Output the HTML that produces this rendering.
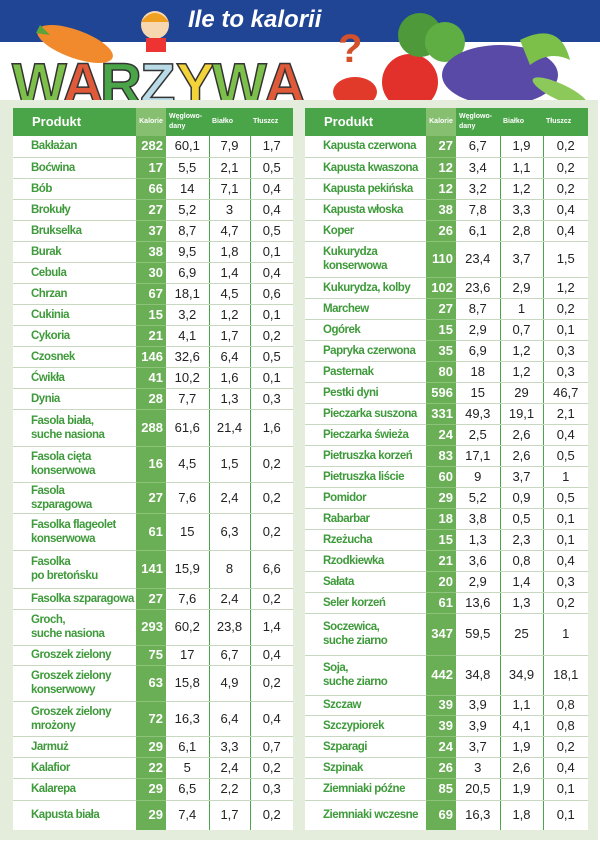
<!DOCTYPE html>
<html><head><meta charset="utf-8">
<style>
*{margin:0;padding:0;box-sizing:border-box}
body{width:600px;height:845px;background:#fff;position:relative;overflow:hidden;font-family:"Liberation Sans",sans-serif}
.blue{position:absolute;left:0;top:0;width:600px;height:42px;background:#1f4594}
.title{position:absolute;left:188px;top:6px;color:#fff;font:bold 24px "Liberation Sans",sans-serif;font-style:italic;letter-spacing:0px}
.panel{position:absolute;left:0;top:100px;width:598px;height:740px;background:#e4ecdb}
table{position:absolute;top:108px;border-collapse:collapse;table-layout:fixed;background:#fff}
td,th{padding:0;overflow:hidden}
th{background:#4aa448;color:#fff;height:28px;font-size:7px;font-weight:bold;text-align:left;vertical-align:middle;padding-left:3px;line-height:10px}
th.p{font-size:13px;padding-left:19px}
th.k{background:#86bf6f;text-align:center;padding:0}
td{border-bottom:1px solid #c8d8c0;font-size:13px;color:#222;text-align:center;vertical-align:middle;line-height:14px}
td.n{color:#3e9a3a;font-weight:bold;text-align:left;padding-left:18px;font-size:11.5px;letter-spacing:-0.5px;white-space:nowrap}
td.k{background:#6aae55;color:#fff;font-weight:bold;text-align:right;padding-right:3px;border-bottom:1px solid #8cc27a}
td.b{border-left:1px solid #4aa448}
</style></head><body>
<div class="blue"></div>
<div class="title">Ile to kalorii</div>
<svg style="position:absolute;left:0;top:0" width="600" height="108">
<ellipse cx="75" cy="44" rx="40" ry="14" fill="#f08a2c" transform="rotate(20 75 44)"/>
<path d="M40 25 l10 10 l-14 -2z" fill="#5aa53a"/>
<circle cx="155" cy="25" r="14" fill="#f7d7b0"/><path d="M141 22 q14 -18 28 0z" fill="#f0a020"/>
<rect x="146" y="38" width="20" height="14" fill="#e33"/>
<g font-family="Liberation Sans" font-weight="bold" font-size="58" stroke="#333" stroke-width="1.5">
<text x="12" y="104" fill="#7cbf4a">W</text><text x="62" y="104" fill="#e05a3a">A</text><text x="100" y="104" fill="#4aa448">R</text><text x="140" y="104" fill="#b9dbe8">Z</text><text x="176" y="104" fill="#f2d33a">Y</text><text x="212" y="104" fill="#7cbf4a">W</text><text x="264" y="104" fill="#e05a3a">A</text>
</g>
<text x="338" y="62" font-family="Liberation Sans" font-weight="bold" font-size="40" fill="#d4502a">?</text>
<ellipse cx="355" cy="92" rx="22" ry="15" fill="#e23a2a"/>
<circle cx="410" cy="82" r="28" fill="#e2302a"/>
<circle cx="420" cy="35" r="22" fill="#4e9a3a"/><circle cx="445" cy="42" r="20" fill="#5fae44"/>
<ellipse cx="500" cy="75" rx="58" ry="30" fill="#5a4aa8"/>
<path d="M520 40 q40 -20 50 20 q-20 -10 -40 5z" fill="#7cc04a"/>
<ellipse cx="560" cy="92" rx="30" ry="8" fill="#8cc85a" transform="rotate(25 560 92)"/>
</svg>
<div class="panel"></div>

<table style="left:13px;width:280px">
<colgroup><col style="width:123px"><col style="width:30px"><col style="width:43px"><col style="width:41px"><col style="width:43px"></colgroup>
<tr><th class="p">Produkt</th><th class="k">Kalorie</th><th>Węglowo-<br>dany</th><th>Białko</th><th>Tłuszcz</th></tr>
<tr style="height:21px"><td class="n">Bakłażan</td><td class="k">282</td><td>60,1</td><td class="b">7,9</td><td class="b">1,7</td></tr>
<tr style="height:21px"><td class="n">Boćwina</td><td class="k">17</td><td>5,5</td><td class="b">2,1</td><td class="b">0,5</td></tr>
<tr style="height:21px"><td class="n">Bób</td><td class="k">66</td><td>14</td><td class="b">7,1</td><td class="b">0,4</td></tr>
<tr style="height:21px"><td class="n">Brokuły</td><td class="k">27</td><td>5,2</td><td class="b">3</td><td class="b">0,4</td></tr>
<tr style="height:21px"><td class="n">Brukselka</td><td class="k">37</td><td>8,7</td><td class="b">4,7</td><td class="b">0,5</td></tr>
<tr style="height:21px"><td class="n">Burak</td><td class="k">38</td><td>9,5</td><td class="b">1,8</td><td class="b">0,1</td></tr>
<tr style="height:21px"><td class="n">Cebula</td><td class="k">30</td><td>6,9</td><td class="b">1,4</td><td class="b">0,4</td></tr>
<tr style="height:21px"><td class="n">Chrzan</td><td class="k">67</td><td>18,1</td><td class="b">4,5</td><td class="b">0,6</td></tr>
<tr style="height:21px"><td class="n">Cukinia</td><td class="k">15</td><td>3,2</td><td class="b">1,2</td><td class="b">0,1</td></tr>
<tr style="height:21px"><td class="n">Cykoria</td><td class="k">21</td><td>4,1</td><td class="b">1,7</td><td class="b">0,2</td></tr>
<tr style="height:21px"><td class="n">Czosnek</td><td class="k">146</td><td>32,6</td><td class="b">6,4</td><td class="b">0,5</td></tr>
<tr style="height:21px"><td class="n">Ćwikła</td><td class="k">41</td><td>10,2</td><td class="b">1,6</td><td class="b">0,1</td></tr>
<tr style="height:21px"><td class="n">Dynia</td><td class="k">28</td><td>7,7</td><td class="b">1,3</td><td class="b">0,3</td></tr>
<tr style="height:37px"><td class="n">Fasola biała,<br>suche nasiona</td><td class="k">288</td><td>61,6</td><td class="b">21,4</td><td class="b">1,6</td></tr>
<tr style="height:36px"><td class="n">Fasola cięta<br>konserwowa</td><td class="k">16</td><td>4,5</td><td class="b">1,5</td><td class="b">0,2</td></tr>
<tr style="height:31px"><td class="n">Fasola<br>szparagowa</td><td class="k">27</td><td>7,6</td><td class="b">2,4</td><td class="b">0,2</td></tr>
<tr style="height:37px"><td class="n">Fasolka flageolet<br>konserwowa</td><td class="k">61</td><td>15</td><td class="b">6,3</td><td class="b">0,2</td></tr>
<tr style="height:38px"><td class="n">Fasolka<br>po bretońsku</td><td class="k">141</td><td>15,9</td><td class="b">8</td><td class="b">6,6</td></tr>
<tr style="height:21px"><td class="n">Fasolka szparagowa</td><td class="k">27</td><td>7,6</td><td class="b">2,4</td><td class="b">0,2</td></tr>
<tr style="height:36px"><td class="n">Groch,<br>suche nasiona</td><td class="k">293</td><td>60,2</td><td class="b">23,8</td><td class="b">1,4</td></tr>
<tr style="height:20px"><td class="n">Groszek zielony</td><td class="k">75</td><td>17</td><td class="b">6,7</td><td class="b">0,4</td></tr>
<tr style="height:36px"><td class="n">Groszek zielony<br>konserwowy</td><td class="k">63</td><td>15,8</td><td class="b">4,9</td><td class="b">0,2</td></tr>
<tr style="height:35px"><td class="n">Groszek zielony<br>mrożony</td><td class="k">72</td><td>16,3</td><td class="b">6,4</td><td class="b">0,4</td></tr>
<tr style="height:21px"><td class="n">Jarmuż</td><td class="k">29</td><td>6,1</td><td class="b">3,3</td><td class="b">0,7</td></tr>
<tr style="height:21px"><td class="n">Kalafior</td><td class="k">22</td><td>5</td><td class="b">2,4</td><td class="b">0,2</td></tr>
<tr style="height:22px"><td class="n">Kalarepa</td><td class="k">29</td><td>6,5</td><td class="b">2,2</td><td class="b">0,3</td></tr>
<tr style="height:30px"><td class="n" style="border:0">Kapusta biała</td><td class="k" style="border:0">29</td><td style="border:0">7,4</td><td class="b" style="border-bottom:0">1,7</td><td class="b" style="border-bottom:0">0,2</td></tr>
</table>

<table style="left:305px;width:283px">
<colgroup><col style="width:121px"><col style="width:30px"><col style="width:44px"><col style="width:43px"><col style="width:45px"></colgroup>
<tr><th class="p">Produkt</th><th class="k">Kalorie</th><th>Węglowo-<br>dany</th><th>Białko</th><th>Tłuszcz</th></tr>
<tr style="height:21px"><td class="n">Kapusta czerwona</td><td class="k">27</td><td>6,7</td><td class="b">1,9</td><td class="b">0,2</td></tr>
<tr style="height:21px"><td class="n">Kapusta kwaszona</td><td class="k">12</td><td>3,4</td><td class="b">1,1</td><td class="b">0,2</td></tr>
<tr style="height:21px"><td class="n">Kapusta pekińska</td><td class="k">12</td><td>3,2</td><td class="b">1,2</td><td class="b">0,2</td></tr>
<tr style="height:21px"><td class="n">Kapusta włoska</td><td class="k">38</td><td>7,8</td><td class="b">3,3</td><td class="b">0,4</td></tr>
<tr style="height:21px"><td class="n">Koper</td><td class="k">26</td><td>6,1</td><td class="b">2,8</td><td class="b">0,4</td></tr>
<tr style="height:36px"><td class="n">Kukurydza<br>konserwowa</td><td class="k">110</td><td>23,4</td><td class="b">3,7</td><td class="b">1,5</td></tr>
<tr style="height:21px"><td class="n">Kukurydza, kolby</td><td class="k">102</td><td>23,6</td><td class="b">2,9</td><td class="b">1,2</td></tr>
<tr style="height:21px"><td class="n">Marchew</td><td class="k">27</td><td>8,7</td><td class="b">1</td><td class="b">0,2</td></tr>
<tr style="height:21px"><td class="n">Ogórek</td><td class="k">15</td><td>2,9</td><td class="b">0,7</td><td class="b">0,1</td></tr>
<tr style="height:21px"><td class="n">Papryka czerwona</td><td class="k">35</td><td>6,9</td><td class="b">1,2</td><td class="b">0,3</td></tr>
<tr style="height:21px"><td class="n">Pasternak</td><td class="k">80</td><td>18</td><td class="b">1,2</td><td class="b">0,3</td></tr>
<tr style="height:21px"><td class="n">Pestki dyni</td><td class="k">596</td><td>15</td><td class="b">29</td><td class="b">46,7</td></tr>
<tr style="height:21px"><td class="n">Pieczarka suszona</td><td class="k">331</td><td>49,3</td><td class="b">19,1</td><td class="b">2,1</td></tr>
<tr style="height:21px"><td class="n">Pieczarka świeża</td><td class="k">24</td><td>2,5</td><td class="b">2,6</td><td class="b">0,4</td></tr>
<tr style="height:21px"><td class="n">Pietruszka korzeń</td><td class="k">83</td><td>17,1</td><td class="b">2,6</td><td class="b">0,5</td></tr>
<tr style="height:21px"><td class="n">Pietruszka liście</td><td class="k">60</td><td>9</td><td class="b">3,7</td><td class="b">1</td></tr>
<tr style="height:21px"><td class="n">Pomidor</td><td class="k">29</td><td>5,2</td><td class="b">0,9</td><td class="b">0,5</td></tr>
<tr style="height:21px"><td class="n">Rabarbar</td><td class="k">18</td><td>3,8</td><td class="b">0,5</td><td class="b">0,1</td></tr>
<tr style="height:21px"><td class="n">Rzeżucha</td><td class="k">15</td><td>1,3</td><td class="b">2,3</td><td class="b">0,1</td></tr>
<tr style="height:21px"><td class="n">Rzodkiewka</td><td class="k">21</td><td>3,6</td><td class="b">0,8</td><td class="b">0,4</td></tr>
<tr style="height:21px"><td class="n">Sałata</td><td class="k">20</td><td>2,9</td><td class="b">1,4</td><td class="b">0,3</td></tr>
<tr style="height:21px"><td class="n">Seler korzeń</td><td class="k">61</td><td>13,6</td><td class="b">1,3</td><td class="b">0,2</td></tr>
<tr style="height:42px"><td class="n">Soczewica,<br>suche ziarno</td><td class="k">347</td><td>59,5</td><td class="b">25</td><td class="b">1</td></tr>
<tr style="height:40px"><td class="n">Soja,<br>suche ziarno</td><td class="k">442</td><td>34,8</td><td class="b">34,9</td><td class="b">18,1</td></tr>
<tr style="height:20px"><td class="n">Szczaw</td><td class="k">39</td><td>3,9</td><td class="b">1,1</td><td class="b">0,8</td></tr>
<tr style="height:21px"><td class="n">Szczypiorek</td><td class="k">39</td><td>3,9</td><td class="b">4,1</td><td class="b">0,8</td></tr>
<tr style="height:21px"><td class="n">Szparagi</td><td class="k">24</td><td>3,7</td><td class="b">1,9</td><td class="b">0,2</td></tr>
<tr style="height:21px"><td class="n">Szpinak</td><td class="k">26</td><td>3</td><td class="b">2,6</td><td class="b">0,4</td></tr>
<tr style="height:22px"><td class="n">Ziemniaki późne</td><td class="k">85</td><td>20,5</td><td class="b">1,9</td><td class="b">0,1</td></tr>
<tr style="height:30px"><td class="n" style="border:0">Ziemniaki wczesne</td><td class="k" style="border:0">69</td><td style="border:0">16,3</td><td class="b" style="border-bottom:0">1,8</td><td class="b" style="border-bottom:0">0,1</td></tr>
</table>
</body></html>
